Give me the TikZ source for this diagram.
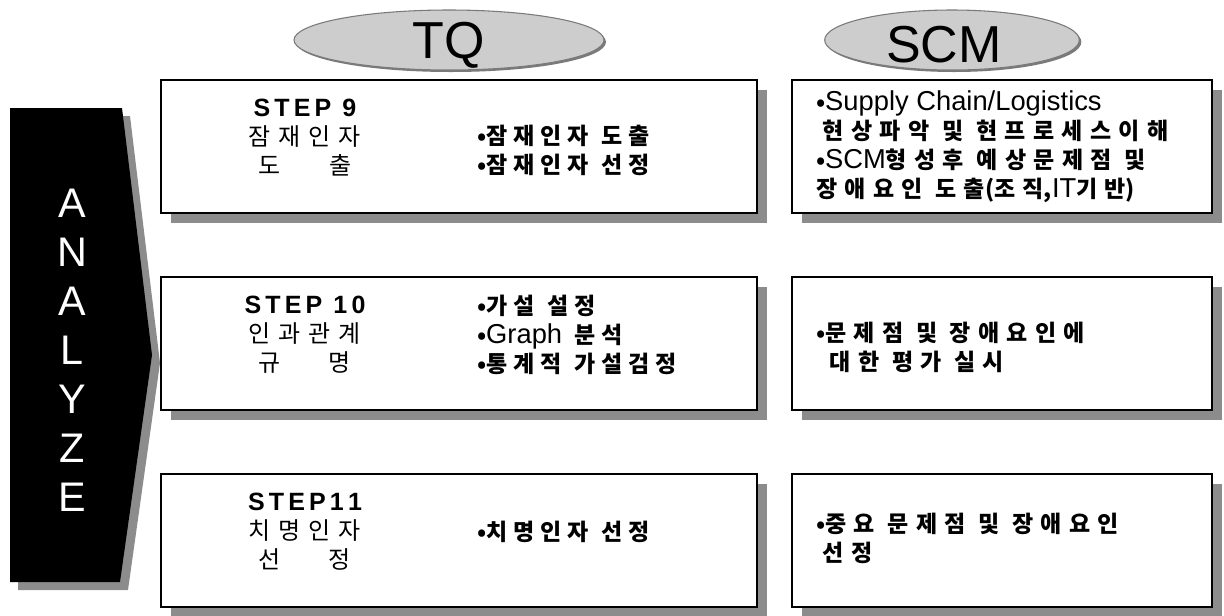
\documentclass[tikz,border=0pt]{standalone}
\usepackage{fontspec}
\setmainfont{Liberation Sans}
\newfontfamily\en{Liberation Sans}
\newfontfamily\kr{Noto Sans CJK KR}
\newcommand{\enl}{\en\mdseries\fontsize{20.5}{20.5}\selectfont}
\newcommand{\stephead}{\en\bfseries\fontsize{18.75}{18.75}\selectfont}
\newcommand{\gap}{\hspace{0.55em}}
% spacing between hangul syllables
\XeTeXinterchartokenstate=1
\newXeTeXintercharclass\hangulClass
\newcount\hcode
\hcode="AC00
\loop
  \XeTeXcharclass\hcode=\hangulClass
  \advance\hcode by 1
\ifnum\hcode<"D7A4 \repeat
\newcommand{\hsp}{0.25em}
\XeTeXinterchartoks\hangulClass\hangulClass={\kern\hsp\relax}
\usetikzlibrary{shapes.geometric, positioning, calc, shadows}
\definecolor{ovalGray}{HTML}{CDCDCD}
\definecolor{rimGray}{HTML}{7A7A7A}
\definecolor{shadeGray}{HTML}{8C8C8C}

\begin{document}
\begin{tikzpicture}[x=0.75pt, y=-0.75pt,
  every node/.style={inner sep=0pt, outer sep=0pt},
  stepBox/.style={draw=black, line width=1pt, fill=white, minimum height=99.75pt,
    drop shadow={shadow xshift=7.5pt, shadow yshift=-7.5pt, fill=shadeGray, opacity=1}},
  tqBox/.style={stepBox, minimum width=447pt},
  scmBox/.style={stepBox, minimum width=315pt},
  headOval/.style={ellipse, draw=rimGray, line width=0.8pt, fill=ovalGray, minimum height=45pt,
    drop shadow={shadow xshift=1.5pt, shadow yshift=-1.5pt, fill=rimGray, opacity=1}},
  headText/.style={font=\en\fontsize{39}{39}\selectfont},
  stepText/.style={align=center, font=\kr\def\hsp{0.33em}\fontsize{18}{21.75}\selectfont},
  itemText/.style={anchor=west, align=left, font=\kr\bfseries\def\hsp{0.26em}\fontsize{17.25}{21.75}\selectfont},
  scmText/.style={itemText, font=\kr\bfseries\def\hsp{0.32em}\fontsize{17.25}{21.75}\selectfont},
  sideLetter/.style={text=white, font=\en\fontsize{31}{31}\selectfont}
]
\useasboundingbox (0,0) rectangle (1224,615);

% ANALYZE arrow
\fill[shadeGray] (18,116) -- (130,116) -- (160,363) -- (128,590) -- (18,590) -- cycle;
\fill[black] (10,108) -- (122,108) -- (152,355) -- (120,582) -- (10,582) -- cycle;
\foreach \ch [count=\i] in {A,N,A,L,Y,Z,E}
  \node[sideLetter] (side\i) at (72,154+49*\i) {\ch};

% column heads
\node[headOval, minimum width=232.5pt] (tq) at (449,40) {};
\node[headText] (tqText) at ($(tq.center)+(0,5)$) {TQ};
\node[headOval, minimum width=191pt] (scm) at (952,40) {};
\node[headText] (scmText) at ($(scm.center)+(-8,5)$) {SCM};

% step boxes
\node[tqBox] (tq1) at (459,146.5) {};
\node[scmBox, right=26.25pt of tq1] (scm1) {};
\node[tqBox, below=48pt of tq1] (tq2) {};
\node[scmBox, right=26.25pt of tq2] (scm2) {};
\node[tqBox, below=48pt of tq2] (tq3) {};
\node[scmBox, right=26.25pt of tq3] (scm3) {};

% STEP 9
\node[stepText] (tq1a) at ($(tq1.north west)+(144,58)$)
  {{\stephead S\,T\,E\,P\, 9}\\잠재인자\\도\hspace{2em}출};
\node[itemText] (tq1b) at ($(tq1.north west)+(316,70)$)
  {•잠재인자\gap 도출\\•잠재인자\gap 선정};
\node[scmText] (scm1a) at ($(scm1.north west)+(24,67)$)
  {•{\enl Supply Chain/Logistics}\\
   \hspace{0.3em}현상파악\gap 및\gap 현프로세스이해\\
   •{\enl SCM}형성후\gap 예상문제점\gap 및\\
   장애요인\gap 도출(조직,{\enl IT}기반)};

% STEP 10
\node[stepText] (tq2a) at ($(tq2.north west)+(144,58)$)
  {{\stephead S\,T\,E\,P\, 1\,0}\\인과관계\\규\hspace{2em}명};
\node[itemText] (tq2b) at ($(tq2.north west)+(316,58)$)
  {•가설\gap 설정\\•{\enl Graph}\gap 분석\\•통계적\gap 가설검정};
\node[scmText] (scm2a) at ($(scm2.north west)+(24,70)$)
  {•문제점\gap 및\gap 장애요인에\\\hspace{0.6em}대한\gap 평가\gap 실시};

% STEP 11
\node[stepText] (tq3a) at ($(tq3.north west)+(144,58)$)
  {{\stephead S\,T\,E\,P\,1\,1}\\치명인자\\선\hspace{2em}정};
\node[itemText] (tq3b) at ($(tq3.north west)+(316,58)$)
  {•치명인자\gap 선정};
\node[scmText] (scm3a) at ($(scm3.north west)+(24,64)$)
  {•중요\gap 문제점\gap 및\gap 장애요인\\\hspace{0.3em}선정};

\end{tikzpicture}
\end{document}
